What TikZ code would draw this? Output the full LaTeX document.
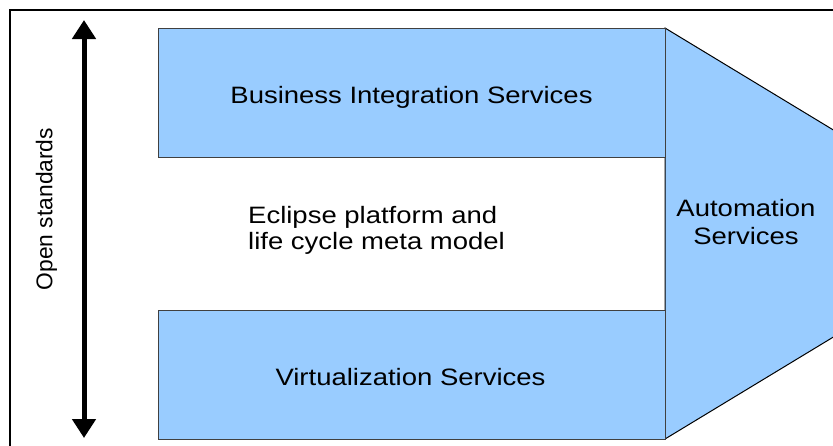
\documentclass[tikz,border=0pt]{standalone}
\usepackage{fontspec}
\setmainfont{Liberation Sans}
\newfontfamily\wideface[FakeStretch=1.16]{Liberation Sans}
\usetikzlibrary{arrows.meta}
\definecolor{boxblue}{HTML}{99CCFF}

\tikzset{
  servicebox/.style={draw=black!75, fill=boxblue, line width=1pt, inner sep=0pt},
  boxtext/.style={font=\wideface\fontsize{23.7}{26}\selectfont, inner sep=0pt}
}

\begin{document}
\begin{tikzpicture}[x=1pt,y=-1pt]
    \useasboundingbox (0,0) rectangle (833,445);
    \clip (0,0) rectangle (833,445);

    % Draw the outer frame along the top and the left side
    \draw[line width=2pt] (10,450) -- (10,10) -- (840,10);

    % Draw the automation block, cut off at the right edge
    \draw[servicebox, draw=black] (665,28) -- (840,134) -- (840,333) -- (665,439) -- cycle;

    % Draw the two service boxes
    \node[servicebox, minimum width=507pt, minimum height=129pt] (bizbox) at (411.5,92.5) {};
    \node[servicebox, minimum width=507pt, minimum height=129pt] (virtbox) at (411.5,374.5) {};

    % Labels of the boxes
    \node[boxtext, anchor=base] (biz) at (411.5,103) {Business Integration Services};
    \node[boxtext, anchor=base] (virt) at (410.5,385) {Virtualization Services};
    \node[boxtext, anchor=west, align=left] (eclipse) at (248,230) {Eclipse platform and\\life cycle meta model};
    \node[boxtext, align=center, font=\wideface\fontsize{23.7}{27.6}\selectfont] (auto) at (746,222) {Automation\\Services};

    % Draw the vertical double arrow for "Open standards"
    \coordinate (uptip) at (84,20);
    \coordinate (downtip) at (84,438);
    \draw[line width=5pt, {Triangle[width=23pt,length=19pt]}-{Triangle[width=23pt,length=19pt]}] (uptip) -- (downtip);
    \node[rotate=90, inner sep=0pt, font=\fontsize{22.8}{26}\selectfont] (openstd) at (46.5,209) {Open standards};
\end{tikzpicture}
\end{document}
